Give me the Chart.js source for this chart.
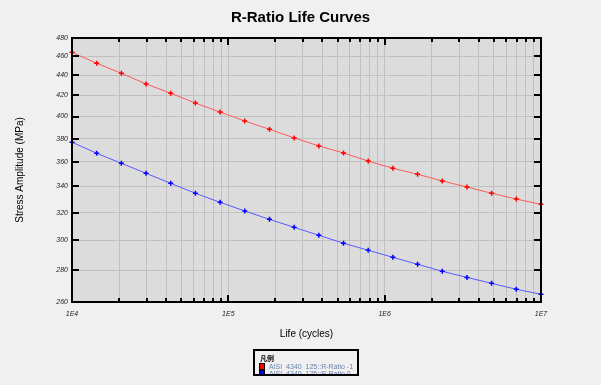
<!DOCTYPE html>
<html lang="en">
<head>
  <meta charset="UTF-8">
  <title>R-Ratio Life Curves</title>
  <script src="https://cdn.jsdelivr.net/npm/chart.js"></script>
  <style>
    body {
      margin: 0;
      background-color: #f0f0f0;
      font-family: "Liberation Sans", Arial, sans-serif;
    }

    #wrap {
      position: relative;
      width: 601px;
      height: 385px;
    }

    #legend {
      position: absolute;
      left: 253px;
      top: 349px;
      width: 102px;
      height: 23px;
      border: 2px solid #000;
      overflow: hidden;
      font-size: 7px;
    }

    #legend .title {
      position: absolute;
      left: 5px;
      top: 2px;
      line-height: 10px;
      font-size: 7px;
      font-family: "Noto Sans CJK SC", sans-serif;
      font-weight: bold;
      color: #000;
    }

    #legend .row {
      position: absolute;
      left: 4px;
      height: 7px;
      line-height: 7px;
      white-space: pre;
      color: #6883b0;
    }

    #legend .sw {
      display: inline-block;
      width: 4px;
      height: 5px;
      border: 1px solid #000;
      vertical-align: top;
      margin-right: 4px;
    }
  </style>
</head>
<body>
  <div id="wrap">
    <canvas id="grafico" width="601" height="385"></canvas>
    <div id="legend"></div>
  </div>

  <script>
    // vida (ciclos) e amplitude de tensão
    const lifeCycles = [10000, 14384, 20691, 29764, 42813, 61585, 88587, 127430, 183300, 263670,
                        379270, 545560, 784760, 1128800, 1623800, 2335700, 3359800, 4832900, 6951900, 10000000];
    const stressR1 = [464.3, 452.6, 442.2, 431.4, 422.2, 412.7, 404.2, 395.8, 388.3, 380.6,
                      373.6, 367.5, 360.7, 354.7, 349.8, 344.4, 339.6, 334.7, 330.2, 326.2];
    const stressR0 = [376.8, 367.3, 358.8, 350.6, 342.5, 334.7, 327.7, 321.2, 315.0, 309.2,
                      303.6, 298.0, 293.2, 288.4, 283.8, 279.2, 275.3, 271.5, 267.8, 264.7];

    const seriesNames = ['AISI  4340  125::R-Ratio -1', 'AISI  4340  125::R-Ratio 0'];
    const lineColors = ['#ff5a5a', '#5a5aff'];
    const markColors = ['#ff0000', '#0000ff'];

    const xMajor = [1e4, 1e5, 1e6, 1e7];
    const xTickLabels = ['1E4', '1E5', '1E6', '1E7'];
    const xMinorSteps = [2, 3, 4, 5, 6, 7, 8, 9];
    const yTicks = [260, 280, 300, 320, 340, 360, 380, 400, 420, 440, 460, 480];

    // todas as linhas verticais da grade (1..9 x década)
    const xGrid = [];
    xMajor.forEach((d, i) => {
      xGrid.push(d);
      if (i < xMajor.length - 1) xMinorSteps.forEach(m => xGrid.push(m * d));
    });

    const fundoPlot = {
      id: 'fundoPlot',
      beforeDraw(chart) {
        const { ctx, chartArea: a } = chart;
        ctx.save();
        ctx.fillStyle = '#dcdcdc';
        ctx.fillRect(a.left, a.top, a.right - a.left, a.bottom - a.top);
        ctx.restore();
      }
    };

    const moldura = {
      id: 'moldura',
      afterDraw(chart) {
        const { ctx, chartArea: { left, right, top, bottom }, scales: { x, y } } = chart;
        ctx.save();
        ctx.strokeStyle = '#000';
        ctx.lineWidth = 2;
        ctx.beginPath();
        x.ticks.forEach(t => {
          const px = Math.round(x.getPixelForValue(t.value));
          const len = xMajor.includes(t.value) ? 7 : 4;
          ctx.moveTo(px, bottom); ctx.lineTo(px, bottom - len);
          ctx.moveTo(px, top); ctx.lineTo(px, top + len);
        });
        y.ticks.forEach(t => {
          const py = Math.round(y.getPixelForValue(t.value));
          ctx.moveTo(left, py); ctx.lineTo(left + 7, py);
          ctx.moveTo(right, py); ctx.lineTo(right - 7, py);
        });
        ctx.stroke();
        ctx.strokeRect(left, top, right - left, bottom - top);
        ctx.restore();
      }
    };

    Chart.defaults.font.family = '"Liberation Sans", Arial, sans-serif';

    const series = [stressR1, stressR0];
    const ctx = document.getElementById('grafico').getContext('2d');
    const chart = new Chart(ctx, {
      type: 'line',
      data: {
        datasets: series.map((vals, i) => ({
          label: seriesNames[i],
          data: vals.map((v, k) => ({ x: lifeCycles[k], y: v })),
          borderColor: lineColors[i],
          borderWidth: 1,
          pointStyle: 'cross',
          pointRadius: 2.5,
          pointBorderWidth: 1.5,
          pointBorderColor: markColors[i],
          pointBackgroundColor: markColors[i],
          fill: false,
          tension: 0,
          clip: false
        }))
      },
      options: {
        responsive: false,
        animation: false,
        layout: { padding: 0 },
        plugins: {
          legend: { display: false },
          tooltip: { enabled: false },
          title: {
            display: true,
            text: 'R-Ratio Life Curves',
            color: '#000',
            font: { size: 15, weight: 'bold' },
            padding: { top: 9, bottom: 11 }
          }
        },
        scales: {
          x: {
            type: 'logarithmic',
            min: 1e4,
            max: 1e7,
            afterBuildTicks: (s) => { s.ticks = xGrid.map(v => ({ value: v })); },
            afterFit: (s) => { s.height = 83; },
            ticks: {
              autoSkip: false,
              maxRotation: 0,
              padding: 8,
              color: '#222',
              font: { size: 7, style: 'italic' },
              callback: (v) => {
                const i = xMajor.indexOf(v);
                return i >= 0 ? xTickLabels[i] : '';
              }
            },
            grid: { color: '#c0c0c0', drawTicks: false },
            border: { display: false },
            title: {
              display: true,
              text: 'Life (cycles)',
              color: '#000',
              font: { size: 10 },
              padding: { top: 0, bottom: 45 }
            }
          },
          y: {
            type: 'logarithmic',
            min: 260,
            max: 480,
            afterBuildTicks: (s) => { s.ticks = yTicks.map(v => ({ value: v })); },
            afterFit: (s) => { s.width = 72; },
            ticks: {
              autoSkip: false,
              padding: 4,
              color: '#222',
              font: { size: 7, style: 'italic' },
              callback: (v) => String(v)
            },
            grid: { color: '#c0c0c0', drawTicks: false },
            border: { display: false },
            title: {
              display: true,
              text: 'Stress Amplitude (MPa)',
              color: '#000',
              font: { size: 10 },
              padding: { top: 14, bottom: 0 }
            }
          },
          // eixo vazio à direita só para reservar a margem
          margemDir: {
            type: 'linear',
            position: 'right',
            afterFit: (s) => { s.width = 60; },
            ticks: { display: false },
            grid: { display: false, drawTicks: false },
            border: { display: false }
          }
        }
      },
      plugins: [fundoPlot, moldura]
    });

    // legenda em HTML
    const leg = document.getElementById('legend');
    const t = document.createElement('div');
    t.className = 'title';
    t.textContent = '凡例';
    leg.appendChild(t);
    seriesNames.forEach((name, i) => {
      const row = document.createElement('div');
      row.className = 'row';
      row.style.top = (12 + i * 7) + 'px';
      const sw = document.createElement('span');
      sw.className = 'sw';
      sw.style.background = markColors[i];
      row.appendChild(sw);
      row.appendChild(document.createTextNode(name));
      leg.appendChild(row);
    });
  </script>
</body>
</html>
